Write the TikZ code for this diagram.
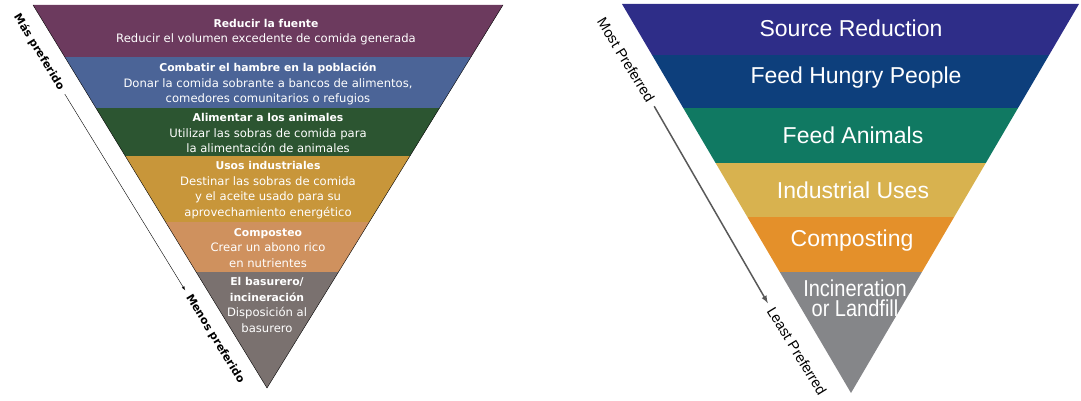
\documentclass[tikz,border=0pt]{standalone}
\usepackage{fontspec}
\setmainfont{DejaVu Sans}
\newfontfamily\arial{Liberation Sans}
\newfontfamily\estrecha[FakeStretch=0.87]{Liberation Sans}
\usetikzlibrary{arrows,calc}
\definecolor{morado}{HTML}{6C3A5E}
\definecolor{azul}{HTML}{4B6497}
\definecolor{verde}{HTML}{2C5531}
\definecolor{oro}{HTML}{C8963A}
\definecolor{canela}{HTML}{CF915E}
\definecolor{gris}{HTML}{7A716F}
\definecolor{navy}{HTML}{2E2D88}
\definecolor{marino}{HTML}{0D3F7C}
\definecolor{turquesa}{HTML}{107962}
\definecolor{mostaza}{HTML}{D8B24F}
\definecolor{naranja}{HTML}{E4902A}
\definecolor{plomo}{HTML}{858689}
\def\izquierda{(33,5) -- (503,5) -- (267,388) -- cycle}
\def\derecha{(622,4) -- (1079,4) -- (851,393) -- cycle}
\newcommand\titulo[1]{{\fontsize{10.8}{15.5}\selectfont\bfseries #1}}

\begin{document}
\begin{tikzpicture}[x=1pt,y=-1pt,
    banda/.style={align=center,text=white,font=\fontsize{11.6}{15.5}\selectfont},
    banda2/.style={align=center,text=white,font=\arial\fontsize{23}{20}\selectfont},
    lado/.style={rotate=-58.5,font=\bfseries\fontsize{11}{11}\selectfont,inner sep=1pt},
    lado2/.style={rotate=-58.5,font=\arial\fontsize{14.5}{14.5}\selectfont,inner sep=1pt}]
\useasboundingbox (0,0) rectangle (1081,401);
% piramide en espanol
\begin{scope}
  \clip \izquierda;
  \fill[morado] (0,0) rectangle (540,57);
  \fill[azul] (0,57) rectangle (540,108);
  \fill[verde] (0,108) rectangle (540,156);
  \fill[oro] (0,156) rectangle (540,222);
  \fill[canela] (0,222) rectangle (540,272);
  \fill[gris] (0,272) rectangle (540,401);
\end{scope}
\draw (33,5) -- (267,388) -- (503,5);
\node[banda] (fuente) at (266,32) {\titulo{Reducir la fuente}\\Reducir el volumen excedente de comida generada};
\node[banda] (hambre) at (268,84) {\titulo{Combatir el hambre en la población}\\Donar la comida sobrante a bancos de alimentos,\\comedores comunitarios o refugios};
\node[banda] (animales) at (268,133) {\titulo{Alimentar a los animales}\\Utilizar las sobras de comida para\\la alimentación de animales};
\node[banda] (usos) at (268,190) {\titulo{Usos industriales}\\Destinar las sobras de comida\\y el aceite usado para su\\aprovechamiento energético};
\node[banda] (composteo) at (268,248) {\titulo{Composteo}\\Crear un abono rico\\en nutrientes};
\node[banda] (basurero) at (267,305) {\titulo{El basurero/}\\\titulo{incineración}\\Disposición al\\basurero};
\node[lado] (mas) at (39,52) {Más preferido};
\node[lado] (menos) at (215,339) {Menos preferido};
\draw[-latex,shorten <=5pt,shorten >=5pt] (mas.east) -- (menos.west);
% piramide en ingles
\begin{scope}
  \clip \derecha;
  \fill[navy] (600,0) rectangle (1081,55);
  \fill[marino] (600,55) rectangle (1081,108);
  \fill[turquesa] (600,108) rectangle (1081,163);
  \fill[mostaza] (600,163) rectangle (1081,217);
  \fill[naranja] (600,217) rectangle (1081,272);
  \fill[plomo] (600,272) rectangle (1081,401);
\end{scope}
\node[banda2] (source) at (851,28) {Source Reduction};
\node[banda2] (hungry) at (856,78) {Feed Hungry People};
\node[banda2] (feed) at (853,135) {Feed Animals};
\node[banda2] (industrial) at (853,190) {Industrial Uses};
\node[banda2] (composting) at (852,241) {Composting};
\node[banda2,font=\estrecha\fontsize{23}{20}\selectfont] (landfill) at (855,298) {Incineration\\or Landfill};
\node[lado2] (most) at (626,60) {Most Preferred};
\node[lado2] (least) at (797,351) {Least Preferred};
\draw[-latex,line width=1.5pt,black!65,shorten <=5pt,shorten >=5pt] (most.east) -- (least.west);
\end{tikzpicture}
\end{document}
